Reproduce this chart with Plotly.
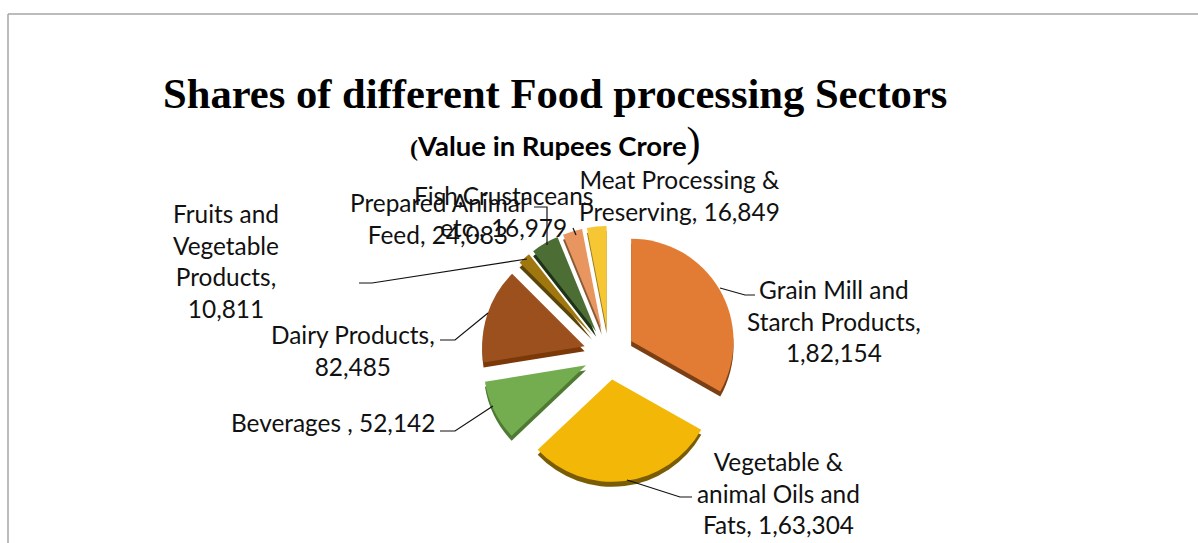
import plotly.graph_objects as go

W, H = 1198, 543

sectors = ["Grain Mill and Starch Products", "Vegetable & animal Oils and Fats", "Beverages",
           "Dairy Products", "Fruits and Vegetable Products", "Prepared Animal Feed",
           "Fish,Crustaceans etc.", "Meat Processing & Preserving"]
values = [182154, 163304, 52142, 82485, 10811, 24083, 16979, 16849]
top_colors = ["#E27C35", "#F3B807", "#74AD4F", "#9C501E", "#A0770F", "#4C6E35", "#E8955F", "#F7C633"]
side_colors = ["#7A3F14", "#7A5C04", "#4F7A34", "#7B3808", "#5C4508", "#1F3316", "#8A5A38", "#9A7A20"]

PULL = 0.25
CX, CY, BOX = 609, 354, 256
DEPTH = 5


def px(x):
    return x / W


def py(y):
    return 1 - y / H


def pie(colors, dy):
    return go.Pie(
        labels=sectors, values=values, sort=False, direction="clockwise", rotation=0,
        pull=[PULL] * len(values), marker=dict(colors=colors, line=dict(width=0)),
        textinfo="none", hoverinfo="label+value", showlegend=False,
        domain=dict(x=[px(CX - BOX / 2), px(CX + BOX / 2)],
                    y=[py(CY + dy + BOX / 2), py(CY + dy - BOX / 2)]),
    )


fig = go.Figure([pie(side_colors, DEPTH), pie(top_colors, 0)])

LABEL_FONT = dict(family="Lato, sans-serif", size=24.4, color="#111111")

# text, centre x, centre y of the block
labels = [
    ("Grain Mill and<br>Starch Products,<br>1,82,154", 834, 321),
    ("Vegetable &<br>animal Oils and<br>Fats, 1,63,304", 778, 493),
    ("Beverages , 52,142", 333, 422),
    ("Dairy Products,<br>82,485", 353, 350),
    ("Fruits and<br>Vegetable<br>Products,<br>10,811", 226, 261),
    ("Prepared Animal<br>Feed, 24,083", 438, 219),
    ("Fish,Crustaceans<br>etc., 16,979", 503, 211),
    ("Meat Processing &<br>Preserving, 16,849", 680, 196),
]
annotations = [
    dict(text=t, x=px(x), y=py(y), xref="paper", yref="paper", showarrow=False,
         xanchor="center", yanchor="middle", align="center", font=LABEL_FONT)
    for t, x, y in labels
]
annotations += [
    dict(text="Shares of different Food processing Sectors", x=px(555), y=py(93),
         xref="paper", yref="paper", showarrow=False, xanchor="center", yanchor="middle",
         font=dict(family="Liberation Serif, serif", size=42.6, color="#000000", weight="bold")),
    dict(text="<span style='font-family:Liberation Serif;font-size:24px'>(</span>"
              "Value in Rupees Crore"
              "<span style='font-family:Liberation Serif;font-size:42px;font-weight:400'>)</span>",
         x=px(555), y=py(142), xref="paper", yref="paper", showarrow=False,
         xanchor="center", yanchor="middle",
         font=dict(family="Lato, sans-serif", size=27.5, color="#000000", weight="bold")),
]

# leader polylines from slice edge to label
leaders = [
    [(720, 288), (745, 295), (755, 295)],
    [(627, 480), (680, 497), (692, 497)],
    [(493, 406), (455, 431), (440, 431)],
    [(488, 313), (455, 340), (440, 340)],
    [(527, 259), (372, 283), (359, 283)],
    [(547, 245), (547, 207), (534, 207)],
    [(573, 228), (576, 235)],
]
shapes = []
for pts in leaders:
    path = "M " + " L ".join(f"{px(x):.5f},{py(y):.5f}" for x, y in pts)
    shapes.append(dict(type="path", path=path, xref="paper", yref="paper",
                       line=dict(color="#111111", width=1.2)))

# frame along the top and left of the page
shapes += [
    dict(type="line", xref="paper", yref="paper", x0=px(8), x1=1, y0=py(14), y1=py(14),
         line=dict(color="#A6A6A6", width=1.5)),
    dict(type="line", xref="paper", yref="paper", x0=px(8), x1=px(8), y0=py(14), y1=0,
         line=dict(color="#A6A6A6", width=1.5)),
]

fig.update_layout(width=W, height=H, margin=dict(l=0, r=0, t=0, b=0),
                  paper_bgcolor="white", plot_bgcolor="white",
                  annotations=annotations, shapes=shapes)
fig.write_html("out.html", config=dict(displayModeBar=False))
